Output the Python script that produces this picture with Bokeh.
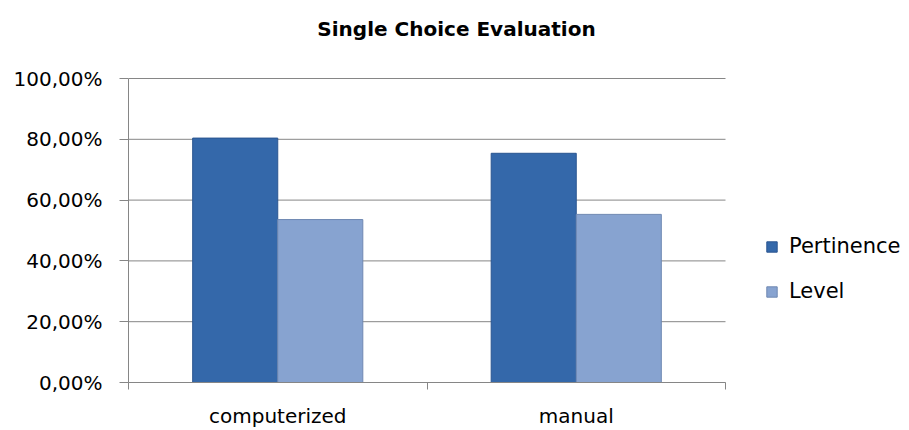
from bokeh.plotting import figure
from bokeh.models import Range1d, FixedTicker, Legend, LegendItem, ColumnDataSource, Label
from bokeh.transform import dodge
from bokeh.embed import file_html
from bokeh.resources import INLINE

categories = ["computerized", "manual"]
pertinence = [80.4, 75.4]
level = [53.6, 55.3]
y_ticks = [0, 20, 40, 60, 80, 100]
y_tick_labels = ["0,00%", "20,00%", "40,00%", "60,00%", "80,00%", "100,00%"]
title_text = "Single Choice Evaluation"

FONT = "DejaVu Sans"
GRID = "#868686"

W, H = 909, 430
LEFT, BOTTOM = 128, 48
PLOT_W, PLOT_H = 597, 304          # pixel size of the data area
FRAME_W, FRAME_H = W - LEFT, H - BOTTOM
n = len(categories)
y_max = y_ticks[-1]

xpos = [i + 0.5 for i in range(n)]
src = ColumnDataSource(dict(x=xpos, pertinence=pertinence, level=level))

p = figure(width=W, height=H, output_backend="svg", toolbar_location=None,
           x_range=Range1d(0, n * FRAME_W / PLOT_W), y_range=Range1d(0, y_max * FRAME_H / PLOT_H),
           min_border_left=LEFT, min_border_right=0, min_border_top=0, min_border_bottom=BOTTOM)
p.outline_line_color = None
p.background_fill_color = "white"
p.border_fill_color = "white"

# grid lines (limited to the data area)
p.segment(x0=0, x1=n, y0=y_ticks, y1=y_ticks, line_color=GRID, line_width=1)

bw = 0.285
r1 = p.vbar(x=dodge("x", -bw / 2, range=p.x_range), top="pertinence", width=bw, source=src,
            fill_color="#3468AA", line_color="#2A5590", line_width=1)
r2 = p.vbar(x=dodge("x", bw / 2, range=p.x_range), top="level", width=bw, source=src,
            fill_color="#87A3D0", line_color="#6F88B2", line_width=1)

# y axis
p.yaxis.bounds = (0, y_max)
p.yaxis.ticker = FixedTicker(ticks=y_ticks)
p.yaxis.major_label_overrides = {t: l for t, l in zip(y_ticks, y_tick_labels)}
p.yaxis.axis_line_color = GRID
p.yaxis.major_tick_line_color = GRID
p.yaxis.major_tick_in = 0
p.yaxis.major_tick_out = 9
p.yaxis.minor_tick_line_color = None
p.yaxis.major_label_text_font = FONT
p.yaxis.major_label_text_font_size = "20px"
p.yaxis.major_label_text_color = "#000000"
p.yaxis.major_label_standoff = 17

# x axis
p.xaxis.bounds = (0, n)
p.xaxis.ticker = FixedTicker(ticks=xpos, minor_ticks=list(range(n + 1)))
p.xaxis.major_label_overrides = {x: c for x, c in zip(xpos, categories)}
p.xaxis.axis_line_color = GRID
p.xaxis.major_tick_line_color = None
p.xaxis.minor_tick_line_color = GRID
p.xaxis.minor_tick_in = 0
p.xaxis.minor_tick_out = 7
p.xaxis.major_label_text_font = FONT
p.xaxis.major_label_text_font_size = "20px"
p.xaxis.major_label_text_color = "#000000"
p.xaxis.major_label_standoff = 14

p.xgrid.grid_line_color = None
p.ygrid.grid_line_color = None

legend = Legend(items=[LegendItem(label="Pertinence", renderers=[r1]),
                       LegendItem(label="Level", renderers=[r2])],
                location=(637, 79), orientation="vertical",
                label_text_font=FONT, label_text_font_size="21px", label_text_color="#000000",
                glyph_width=13, glyph_height=13, label_height=20, spacing=21,
                padding=0, margin=0, border_line_color=None, background_fill_alpha=0,
                label_standoff=11)
p.add_layout(legend, "center")

title = Label(x=456 - LEFT, y=FRAME_H - 28, x_units="screen", y_units="screen", text=title_text,
              text_font=FONT, text_font_size="20px", text_font_style="bold",
              text_align="center", text_baseline="middle", text_color="#000000")
p.add_layout(title)

open("out.html", "w").write(file_html(p, INLINE))
